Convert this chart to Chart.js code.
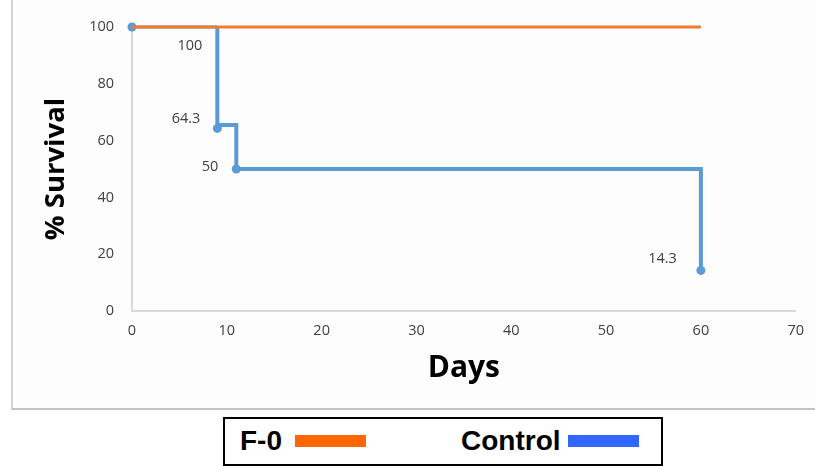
<!DOCTYPE html>
<html>
<head>
<meta charset="utf-8">
<script src="https://cdn.jsdelivr.net/npm/chart.js@4.4.0/dist/chart.umd.min.js"></script>
<style>
    body { margin: 0; background: #fff; width: 815px; height: 466px; position: relative; overflow: hidden; }
    #frame { position: absolute; left: 11px; top: 0; width: 804px; height: 408px; background: #fdfdfd;
             border-left: 2px solid #d4d4d4; border-bottom: 2px solid #c4c4c4; }
    #grafico { position: absolute; left: 13px; top: 0; }
    #legenda { position: absolute; left: 223px; top: 417px; width: 436px; height: 45px; border: 2px solid #000;
               font-family: "Liberation Sans", Arial, sans-serif; font-weight: bold; font-size: 28px; color: #000; }
    #legenda span { position: absolute; top: 6px; }
    #legenda i { position: absolute; top: 16px; width: 71px; height: 12px; }
</style>
</head>
<body>
<div id="frame"></div>
<canvas id="grafico" width="802" height="408"></canvas>
<div id="legenda">
    <span style="left:15px">F-0</span><i style="left:70px;background:#ff6600"></i>
    <span style="left:236px">Control</span><i style="left:343px;background:#3366ff"></i>
</div>
<script>
// dados
const f0Days = [0, 60];
const f0Survival = [100, 100];

const controlDays = [0, 9, 9, 9, 11, 11, 60, 60];
const controlSurvival = [100, 100, 64.3, 65.5, 65.5, 50, 50, 14.3];
const controlMarkers = [true, false, true, false, false, true, false, true];
const controlLabels = [null, '100', '64.3', null, null, '50', null, '14.3'];

const xTicks = [0, 10, 20, 30, 40, 50, 60, 70];
const yTicks = [0, 20, 40, 60, 80, 100];

// deslocamento dos rótulos (px) em relação ao ponto
const labelOffsets = [null, [-15, 19], [-17, -10], null, null, [-18, -2], null, [-24, -12]];

const toPoints = (xs, ys) => xs.map((x, i) => ({ x: x, y: ys[i] }));

const dataLabels = {
    id: 'dataLabels',
    afterDatasetsDraw(chart) {
        const meta = chart.getDatasetMeta(1);
        const ctx = chart.ctx;
        ctx.save();
        ctx.font = '14.5px "Open Sans"';
        ctx.fillStyle = '#404040';
        ctx.textAlign = 'right';
        ctx.textBaseline = 'middle';
        meta.data.forEach((pt, i) => {
            if (!controlLabels[i]) return;
            const off = labelOffsets[i];
            ctx.fillText(controlLabels[i], pt.x + off[0], pt.y + off[1]);
        });
        ctx.restore();
    }
};

const tickFont = { family: '"Open Sans"', size: 14.5 };

const ctx = document.getElementById('grafico').getContext('2d');

const myChart = new Chart(ctx, {
    type: 'line',
    data: {
        datasets: [
            {
                label: 'F-0',
                data: toPoints(f0Days, f0Survival),
                borderColor: '#ed7d31',
                borderWidth: 3,
                pointRadius: 0,
                fill: false,
                clip: false
            },
            {
                label: 'Control',
                data: toPoints(controlDays, controlSurvival),
                borderColor: '#5b9bd5',
                backgroundColor: '#5b9bd5',
                borderWidth: 4,
                pointRadius: controlMarkers.map(m => m ? 4.5 : 0),
                pointBorderWidth: 0,
                segment: {
                    borderWidth: c => c.p0DataIndex === 0 ? 3 : undefined
                },
                fill: false,
                clip: false
            }
        ]
    },
    options: {
        responsive: false,
        animation: false,
        layout: { padding: { left: 0, top: 27, right: 19, bottom: 0 } },
        plugins: { legend: { display: false }, tooltip: { enabled: false } },
        scales: {
            x: {
                type: 'linear',
                min: 0,
                max: 70,
                afterBuildTicks: scale => { scale.ticks = xTicks.map(v => ({ value: v })); },
                afterFit: scale => { scale.height = 97; },
                grid: { display: false, drawTicks: false },
                border: { color: '#d9d9d9', width: 2 },
                ticks: { font: tickFont, color: '#404040', padding: 11, maxRotation: 0 },
                title: {
                    display: true,
                    text: 'Days',
                    font: { family: '"Open Sans"', size: 30, weight: 'bold' },
                    color: '#000',
                    padding: { top: 0, bottom: 22 }
                }
            },
            y: {
                min: 0,
                max: 100,
                afterBuildTicks: scale => { scale.ticks = yTicks.map(v => ({ value: v })); },
                afterFit: scale => { scale.width = 119; },
                grid: { display: false, drawTicks: false },
                border: { color: '#d9d9d9', width: 2 },
                ticks: { font: tickFont, color: '#404040', padding: 18 },
                title: {
                    display: true,
                    text: '% Survival',
                    font: { family: '"Open Sans"', size: 27.5, weight: 'bold' },
                    color: '#000',
                    padding: { top: 27, bottom: 0 }
                }
            }
        }
    },
    plugins: [dataLabels]
});
</script>
</body>
</html>
